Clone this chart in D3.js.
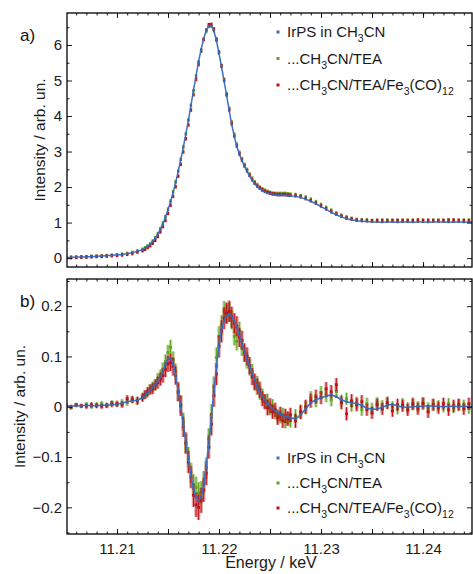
<!DOCTYPE html>
<html><head><meta charset="utf-8">
<script src="https://cdn.jsdelivr.net/npm/d3@7"></script>
<style>body{margin:0;background:#fff}svg{display:block}text{font-family:"Liberation Sans",Arial,sans-serif}</style>
</head><body>
<svg id="c" width="473" height="574"></svg>
<script>
// ---------- DATA ----------
const energy = [
  11.205, 11.2055, 11.206, 11.2065, 11.207, 11.2075, 11.208, 11.2085, 11.209, 11.2095, 11.21, 11.2105, 11.211, 11.2115, 11.212, 11.2125,
  11.21275, 11.213, 11.21325, 11.2135, 11.21375, 11.214, 11.21425, 11.2145, 11.21475, 11.215,
  11.21525, 11.2155, 11.21575, 11.216, 11.21625, 11.2165, 11.21675, 11.217, 11.21725, 11.2175,
  11.21775, 11.218, 11.21825, 11.2185, 11.21875, 11.219, 11.21925, 11.2195, 11.21975, 11.22,
  11.22025, 11.2205, 11.22075, 11.221, 11.22125, 11.2215, 11.22175, 11.222, 11.22225, 11.2225,
  11.22275, 11.223, 11.22325, 11.2235, 11.22375, 11.224, 11.22425, 11.2245, 11.22475, 11.225,
  11.22525, 11.2255, 11.22575, 11.226, 11.22625, 11.2265, 11.22675, 11.227,
  11.2275, 11.228, 11.2285, 11.229, 11.2295, 11.23, 11.2305, 11.231, 11.2315, 11.232,
  11.2325, 11.233, 11.2335, 11.234, 11.2345, 11.235, 11.2355, 11.236, 11.2365, 11.237,
  11.2375, 11.238, 11.2385, 11.239, 11.2395, 11.24, 11.2405, 11.241, 11.2415, 11.242,
  11.2425, 11.243, 11.2435, 11.244, 11.2445, 11.245
];
// panel a) normalised XANES
const xanesIrPS = [
  0.02, 0.02, 0.03, 0.03, 0.04, 0.04, 0.05, 0.06, 0.07, 0.08, 0.09, 0.10, 0.12, 0.15, 0.19, 0.24,
  0.28, 0.33, 0.39, 0.47, 0.56, 0.67, 0.81, 0.97, 1.15, 1.36,
  1.59, 1.85, 2.13, 2.44, 2.77, 3.12, 3.49, 3.88, 4.30, 4.72,
  5.14, 5.54, 5.88, 6.18, 6.41, 6.54, 6.54, 6.40, 6.12, 5.76,
  5.38, 4.98, 4.57, 4.15, 3.76, 3.42, 3.14, 2.92, 2.74, 2.58,
  2.44, 2.31, 2.19, 2.09, 2.01, 1.95, 1.90, 1.86, 1.83, 1.81,
  1.79, 1.78, 1.77, 1.77, 1.77, 1.77, 1.76, 1.75,
  1.74, 1.71, 1.66, 1.60, 1.53, 1.45, 1.37, 1.29, 1.22, 1.16,
  1.11, 1.08, 1.05, 1.04, 1.03, 1.02, 1.02, 1.01, 1.02, 1.02,
  1.01, 1.02, 1.02, 1.01, 1.02, 1.02, 1.01, 1.02, 1.02, 1.02,
  1.01, 1.02, 1.02, 1.01, 1.02, 1.02
];
const xanesTEA = [
  0.02, 0.02, 0.03, 0.03, 0.04, 0.05, 0.05, 0.06, 0.07, 0.08, 0.09, 0.11, 0.13, 0.16, 0.20, 0.25,
  0.29, 0.34, 0.40, 0.48, 0.57, 0.69, 0.83, 0.99, 1.17, 1.38,
  1.61, 1.87, 2.15, 2.45, 2.78, 3.13, 3.50, 3.89, 4.30, 4.71,
  5.12, 5.51, 5.85, 6.15, 6.38, 6.52, 6.53, 6.40, 6.14, 5.79,
  5.42, 5.03, 4.63, 4.22, 3.83, 3.49, 3.21, 2.98, 2.80, 2.64,
  2.50, 2.37, 2.25, 2.15, 2.07, 2.00, 1.95, 1.91, 1.88, 1.85,
  1.83, 1.82, 1.82, 1.82, 1.82, 1.82, 1.81, 1.80,
  1.79, 1.76, 1.72, 1.66, 1.59, 1.51, 1.43, 1.35, 1.27, 1.21,
  1.16, 1.12, 1.09, 1.08, 1.07, 1.06, 1.06, 1.06, 1.07, 1.06,
  1.06, 1.06, 1.07, 1.06, 1.06, 1.06, 1.06, 1.07, 1.06, 1.06,
  1.08, 1.06, 1.06, 1.07, 1.06, 1.06
];
const xanesFe = [
  0.02, 0.02, 0.02, 0.03, 0.03, 0.04, 0.05, 0.05, 0.06, 0.07, 0.08, 0.09, 0.11, 0.13, 0.17, 0.21,
  0.25, 0.30, 0.35, 0.42, 0.50, 0.61, 0.74, 0.89, 1.06, 1.26,
  1.49, 1.74, 2.01, 2.31, 2.64, 2.99, 3.36, 3.75, 4.17, 4.60,
  5.03, 5.45, 5.83, 6.16, 6.42, 6.57, 6.58, 6.45, 6.17, 5.80,
  5.41, 5.01, 4.60, 4.18, 3.79, 3.44, 3.16, 2.94, 2.76, 2.60,
  2.46, 2.33, 2.21, 2.11, 2.03, 1.97, 1.92, 1.88, 1.85, 1.83,
  1.81, 1.80, 1.79, 1.79, 1.79, 1.79, 1.78, 1.77,
  1.76, 1.73, 1.68, 1.62, 1.55, 1.47, 1.39, 1.31, 1.24, 1.18,
  1.13, 1.10, 1.07, 1.06, 1.06, 1.05, 1.06, 1.06, 1.05, 1.06,
  1.06, 1.06, 1.05, 1.06, 1.07, 1.06, 1.06, 1.05, 1.06, 1.06,
  1.06, 1.07, 1.06, 1.05, 1.06, 1.06
];
// panel b) transient difference spectra
const diffIrPS = [
  0.002, 0.001, 0.002, 0.002, 0.003, 0.002, 0.002, 0.003, 0.003, 0.004, 0.005, 0.007, 0.010, 0.012, 0.013, 0.018,
  0.022, 0.028, 0.033, 0.038, 0.044, 0.051, 0.059, 0.070, 0.084, 0.095,
  0.096, 0.085, 0.062, 0.032, 0.000, -0.034, -0.068, -0.104, -0.138, -0.163,
  -0.180, -0.187, -0.180, -0.156, -0.118, -0.072, -0.022, 0.030, 0.080, 0.124,
  0.155, 0.172, 0.181, 0.184, 0.180, 0.170, 0.158, 0.143, 0.126, 0.110,
  0.095, 0.081, 0.066, 0.052, 0.040, 0.029, 0.020, 0.012, 0.006, 0.001,
  -0.004, -0.008, -0.011, -0.014, -0.017, -0.019, -0.021, -0.022,
  -0.024, -0.016, -0.004, 0.008, 0.014, 0.018, 0.021, 0.024, 0.020, 0.014,
  0.010, 0.008, 0.006, 0.003, -0.003, -0.005, -0.005, -0.001, 0.003, 0.005,
  0.002, -0.001, -0.001, 0.000, 0.001, 0.001, 0.002, 0.001, 0.001, 0.000,
  0.001, 0.001, 0.000, 0.001, 0.000, 0.001
];
const diffTEA = [
  0.003, -0.002, 0.004, 0.001, 0.005, 0.000, 0.004, 0.006, 0.002, 0.008, 0.004, 0.009, 0.008, 0.015, 0.012, 0.020,
  0.024, 0.027, 0.036, 0.040, 0.042, 0.056, 0.062, 0.075, 0.090, 0.108,
  0.118, 0.094, 0.070, 0.028, 0.005, -0.030, -0.074, -0.100, -0.131, -0.155,
  -0.160, -0.172, -0.170, -0.150, -0.122, -0.064, -0.015, 0.040, 0.098, 0.140,
  0.162, 0.190, 0.185, 0.188, 0.173, 0.140, 0.130, 0.152, 0.118, 0.105,
  0.092, 0.078, 0.070, 0.047, 0.046, 0.028, 0.022, 0.010, 0.012, -0.004,
  0.002, -0.012, -0.018, -0.020, -0.015, -0.030, -0.022, -0.028,
  -0.018, -0.012, -0.002, 0.018, 0.012, 0.028, 0.022, 0.014, 0.030, 0.012,
  0.016, 0.002, 0.008, -0.006, 0.006, -0.004, 0.008, 0.002, 0.006, 0.000,
  -0.004, 0.006, -0.002, 0.004, 0.000, 0.008, -0.002, 0.004, 0.002, 0.000,
  0.006, -0.002, 0.004, 0.003, -0.003, 0.002
];
const diffFe = [
  0.001, 0.000, 0.003, 0.002, 0.001, 0.004, 0.002, 0.001, 0.003, 0.005, 0.006, 0.004, 0.016, 0.014, 0.012, 0.018,
  0.024, 0.030, 0.034, 0.036, 0.044, 0.048, 0.055, 0.062, 0.074, 0.085,
  0.088, 0.080, 0.062, 0.030, 0.002, -0.040, -0.072, -0.110, -0.140, -0.176,
  -0.195, -0.200, -0.186, -0.165, -0.132, -0.080, -0.035, 0.022, 0.065, 0.120,
  0.150, 0.176, 0.186, 0.190, 0.178, 0.166, 0.160, 0.138, 0.132, 0.108,
  0.100, 0.082, 0.060, 0.050, 0.040, 0.034, 0.016, 0.010, -0.002, 0.002,
  -0.010, -0.006, -0.022, -0.014, -0.028, -0.018, -0.024, -0.016,
  -0.028, -0.010, 0.000, 0.012, 0.020, 0.018, 0.036, 0.030, 0.044, 0.008,
  -0.014, 0.012, 0.004, 0.010, -0.006, -0.012, 0.004, -0.004, 0.008, -0.008,
  0.004, 0.002, -0.006, 0.006, -0.004, 0.006, -0.010, 0.004, -0.002, 0.006,
  -0.006, 0.002, 0.004, -0.004, 0.006, 0.000
];
const errTEA = [
  0.004, 0.004, 0.004, 0.004, 0.004, 0.004, 0.005, 0.005, 0.005, 0.005, 0.005, 0.006, 0.006, 0.007, 0.007, 0.008,
  0.008, 0.009, 0.009, 0.010, 0.010, 0.011, 0.012, 0.013, 0.014, 0.015,
  0.015, 0.016, 0.016, 0.017, 0.018, 0.018, 0.019, 0.020, 0.020, 0.021,
  0.021, 0.022, 0.022, 0.022, 0.021, 0.021, 0.020, 0.020, 0.020, 0.020,
  0.020, 0.020, 0.019, 0.019, 0.019, 0.018, 0.018, 0.017, 0.017, 0.016,
  0.016, 0.016, 0.015, 0.015, 0.015, 0.014, 0.014, 0.014, 0.014, 0.013,
  0.013, 0.013, 0.013, 0.013, 0.013, 0.013, 0.013, 0.013,
  0.013, 0.013, 0.013, 0.013, 0.013, 0.013, 0.013, 0.013, 0.012, 0.012,
  0.012, 0.012, 0.012, 0.012, 0.012, 0.012, 0.011, 0.011, 0.011, 0.011,
  0.011, 0.011, 0.011, 0.011, 0.011, 0.011, 0.011, 0.011, 0.011, 0.011,
  0.011, 0.011, 0.011, 0.011, 0.011, 0.011
];
const errFe = [
  0.004, 0.004, 0.004, 0.004, 0.005, 0.005, 0.005, 0.005, 0.005, 0.006, 0.006, 0.006, 0.007, 0.007, 0.008, 0.008,
  0.009, 0.009, 0.010, 0.011, 0.011, 0.012, 0.013, 0.014, 0.015, 0.016,
  0.017, 0.018, 0.018, 0.019, 0.020, 0.020, 0.021, 0.022, 0.022, 0.023,
  0.024, 0.025, 0.025, 0.024, 0.024, 0.023, 0.022, 0.022, 0.022, 0.022,
  0.022, 0.022, 0.021, 0.021, 0.021, 0.020, 0.020, 0.019, 0.019, 0.018,
  0.018, 0.017, 0.017, 0.016, 0.016, 0.016, 0.015, 0.015, 0.015, 0.015,
  0.014, 0.014, 0.014, 0.014, 0.014, 0.014, 0.014, 0.014,
  0.014, 0.014, 0.014, 0.014, 0.014, 0.013, 0.013, 0.013, 0.013, 0.013,
  0.013, 0.013, 0.013, 0.013, 0.012, 0.012, 0.012, 0.012, 0.012, 0.012,
  0.012, 0.012, 0.012, 0.012, 0.012, 0.012, 0.012, 0.012, 0.012, 0.012,
  0.012, 0.012, 0.012, 0.012, 0.012, 0.012
];
const xTickLabels = [11.21, 11.22, 11.23, 11.24];
const xMajorTicks = [11.21, 11.215, 11.22, 11.225, 11.23, 11.235, 11.24];
const topYTicks = [0, 1, 2, 3, 4, 5, 6];
const topYMinor = [0.5, 1.5, 2.5, 3.5, 4.5, 5.5, 6.5];
const botYTicks = [-0.2, -0.1, 0, 0.1, 0.2];
const botYMinor = [-0.25, -0.15, -0.05, 0.05, 0.15, 0.25];
// legend labels: [text, isSubscript]
const legendLabels = [
  [["IrPS in CH", 0], ["3", 1], ["CN", 0]],
  [["...CH", 0], ["3", 1], ["CN/TEA", 0]],
  [["...CH", 0], ["3", 1], ["CN/TEA/Fe", 0], ["3", 1], ["(CO)", 0], ["12", 1]]
];
const seriesKeys = ["irps", "tea", "fe"];

// ---------- LAYOUT ----------
const L = 67, R = 472;
const topBox = {t: 13, b: 267}, botBox = {t: 279, b: 534};
const COL = {irps: "#3f70c0", tea: "#5ea51f", fe: "#bd1016"};
const FONT = '"Liberation Sans", Arial, sans-serif';

const x = d3.scaleLinear().domain([11.2051, 11.2448]).range([L, R]);
const yT = d3.scaleLinear().domain([-0.25, 6.9]).range([topBox.b, topBox.t]);
const yB = d3.scaleLinear().domain([-0.253, 0.254]).range([botBox.b, botBox.t]);

const svg = d3.select("#c");
const defs = svg.append("defs");
[["clipT", topBox], ["clipB", botBox]].forEach(([id, b]) => {
  defs.append("clipPath").attr("id", id).append("rect")
    .attr("x", L).attr("y", b.t).attr("width", R - L).attr("height", b.b - b.t);
});

const N = Math.min(energy.length, xanesIrPS.length, xanesTEA.length, xanesFe.length,
  diffIrPS.length, diffTEA.length, diffFe.length, errTEA.length, errFe.length);
const rows = d3.range(N).map(i => ({
  e: energy[i],
  a: {irps: xanesIrPS[i], tea: xanesTEA[i], fe: xanesFe[i]},
  b: {irps: diffIrPS[i], tea: diffTEA[i], fe: diffFe[i]},
  err: {tea: errTEA[i], fe: errFe[i]}
}));

function axes(yScale, yMaj, yMin, showX, yFmt) {
  const g = svg.append("g");
  const b = yScale.range()[0], t = yScale.range()[1];
  const xMinor = d3.range(11206, 11245).map(v => v / 1000);
  const add = (axis, tr) => {
    const a = g.append("g").attr("transform", tr).call(axis);
    a.select(".domain").remove();
    a.selectAll("line").attr("stroke", "#000").attr("stroke-width", 0.9);
    a.selectAll("text").attr("font-size", 15).attr("font-family", FONT).attr("fill", "#1a1a1a");
    return a;
  };
  add(d3.axisBottom(x).tickValues(xMinor).tickSize(-2.5).tickFormat(""), `translate(0,${b})`);
  add(d3.axisBottom(x).tickValues(xMajorTicks).tickSize(-5).tickPadding(9)
      .tickFormat(d => (showX && xTickLabels.includes(d)) ? d3.format(".2f")(d) : ""), `translate(0,${b})`);
  add(d3.axisTop(x).tickValues(xMinor).tickSize(-2.5).tickFormat(""), `translate(0,${t})`);
  add(d3.axisTop(x).tickValues(xMajorTicks).tickSize(-5).tickFormat(""), `translate(0,${t})`);
  add(d3.axisLeft(yScale).tickValues(yMin).tickSize(-2.5).tickFormat(""), `translate(${L},0)`);
  add(d3.axisLeft(yScale).tickValues(yMaj).tickSize(-5).tickPadding(5).tickFormat(yFmt), `translate(${L},0)`);
  add(d3.axisRight(yScale).tickValues(yMin).tickSize(-2.5).tickFormat(""), `translate(${R},0)`);
  add(d3.axisRight(yScale).tickValues(yMaj).tickSize(-5).tickFormat(""), `translate(${R},0)`);
  g.append("rect").attr("x", L).attr("y", t).attr("width", R - L).attr("height", b - t)
    .attr("fill", "none").attr("stroke", "#000").attr("stroke-width", 1.3);
}

// ---------- PANEL a ----------
const pa = svg.append("g").attr("clip-path", "url(#clipT)");
["tea", "fe"].forEach(k => {
  pa.append("g").selectAll("rect").data(rows).join("rect")
    .attr("x", d => x(d.e) - 1.2).attr("y", d => yT(d.a[k]) - 1.8)
    .attr("width", 2.4).attr("height", 3.6).attr("fill", COL[k]);
});
pa.append("path").datum(rows)
  .attr("d", d3.line().x(d => x(d.e)).y(d => yT(d.a.irps)))
  .attr("fill", "none").attr("stroke", COL.irps).attr("stroke-width", 1.5);
pa.append("g").selectAll("rect").data(rows).join("rect")
  .attr("x", d => x(d.e) - 1).attr("y", d => yT(d.a.irps) - 1)
  .attr("width", 2).attr("height", 2).attr("fill", "#3565b0");

// ---------- PANEL b ----------
const pb = svg.append("g").attr("clip-path", "url(#clipB)");
["tea", "fe"].forEach(k => {
  const g = pb.append("g");
  g.selectAll(".band").data(rows).join("rect")
    .attr("x", d => x(d.e) - 1.7).attr("y", d => yB(d.b[k] + d.err[k]))
    .attr("width", 3.4).attr("height", d => yB(d.b[k] - d.err[k]) - yB(d.b[k] + d.err[k]))
    .attr("fill", COL[k]).attr("opacity", 0.4);
  g.selectAll(".bar").data(rows).join("line")
    .attr("x1", d => x(d.e)).attr("x2", d => x(d.e))
    .attr("y1", d => yB(d.b[k] + d.err[k])).attr("y2", d => yB(d.b[k] - d.err[k]))
    .attr("stroke", COL[k]).attr("stroke-width", 1);
  g.selectAll(".pt").data(rows).join("rect")
    .attr("x", d => x(d.e) - 1.4).attr("y", d => yB(d.b[k]) - 1.4)
    .attr("width", 2.8).attr("height", 2.8).attr("fill", COL[k]);
});
pb.append("path").datum(rows)
  .attr("d", d3.line().x(d => x(d.e)).y(d => yB(d.b.irps)))
  .attr("fill", "none").attr("stroke", COL.irps).attr("stroke-width", 1.6);
pb.append("g").selectAll("rect").data(rows).join("rect")
  .attr("x", d => x(d.e) - 1.1).attr("y", d => yB(d.b.irps) - 1.1)
  .attr("width", 2.2).attr("height", 2.2).attr("fill", "#3565b0");

axes(yT, topYTicks, topYMinor, false, d3.format("d"));
axes(yB, botYTicks, botYMinor, true, d => d === 0 ? "0" : d3.format(".1f")(d));

// ---------- LEGENDS ----------
function legend(y0, dy) {
  seriesKeys.forEach((k, i) => {
    const cy = y0 + i * dy;
    svg.append("rect").attr("x", 276.5).attr("y", cy - 1.5).attr("width", 3).attr("height", 3).attr("fill", COL[k]);
    const t = svg.append("text").attr("x", 287).attr("y", cy + 5.3)
      .attr("font-size", 15).attr("font-family", FONT).attr("fill", "#1a1a1a");
    let sub = false;
    legendLabels[i].forEach(([s, isSub]) => {
      const ts = t.append("tspan").text(s);
      if (isSub && !sub) { ts.attr("dy", 5).attr("font-size", 10.5); sub = true; }
      else if (isSub) { ts.attr("font-size", 10.5); }
      else if (!isSub && sub) { ts.attr("dy", -5); sub = false; }
    });
  });
}
legend(32, 26.5);
legend(458, 25);

// ---------- LABELS ----------
svg.append("text").attr("x", 20).attr("y", 41).attr("font-size", 17).attr("font-family", FONT).attr("fill", "#111").text("a)");
svg.append("text").attr("x", 20).attr("y", 307).attr("font-size", 17).attr("font-family", FONT).attr("fill", "#111").text("b)");
svg.append("text").attr("transform", `translate(39,${(topBox.t + topBox.b) / 2}) rotate(-90)`)
  .attr("text-anchor", "middle").attr("dominant-baseline", "central")
  .attr("font-size", 15.5).attr("font-family", FONT).attr("fill", "#1a1a1a").text("Intensity / arb. un.");
svg.append("text").attr("transform", `translate(19,${(botBox.t + botBox.b) / 2}) rotate(-90)`)
  .attr("text-anchor", "middle").attr("dominant-baseline", "central")
  .attr("font-size", 15.5).attr("font-family", FONT).attr("fill", "#1a1a1a").text("Intensity / arb. un.");
svg.append("text").attr("x", 271).attr("y", 568).attr("text-anchor", "middle")
  .attr("font-size", 16).attr("font-family", FONT).attr("fill", "#1a1a1a").text("Energy / keV");
</script>
</body></html>
